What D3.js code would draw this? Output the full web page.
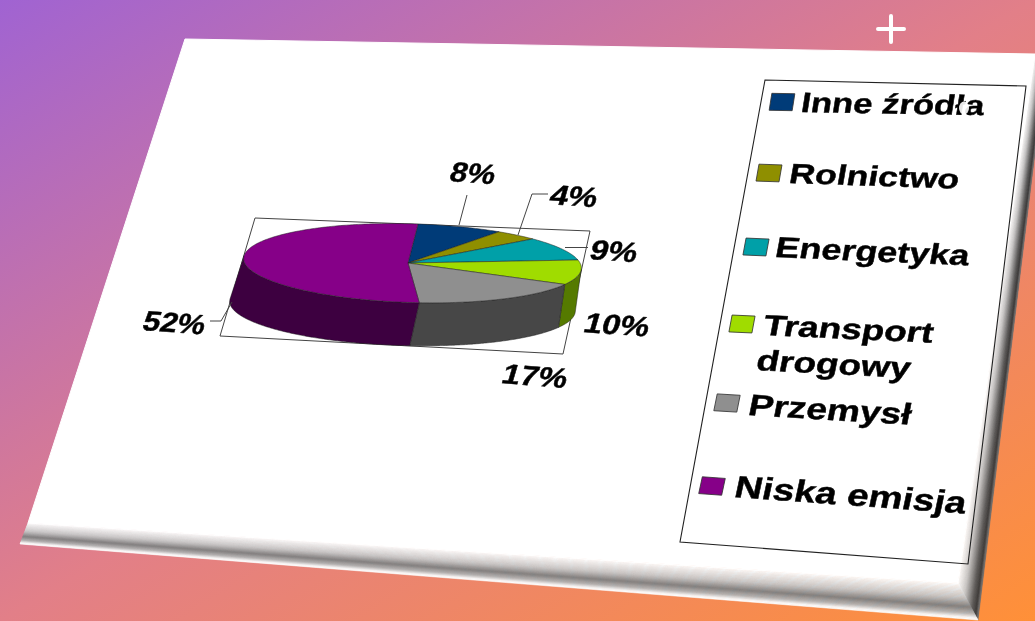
<!DOCTYPE html>
<html>
<head>
<meta charset="utf-8">
<script src="https://cdn.jsdelivr.net/npm/d3@7"></script>
<style>
html, body { margin: 0; padding: 0; overflow: hidden; }
svg { display: block; }
text { font-family: "Liberation Sans", Arial, sans-serif; font-weight: bold; fill: #060606; stroke: #060606; stroke-width: 0.45; }
</style>
</head>
<body>
<svg width="1035" height="621"></svg>
<script>
/*
Chart data
 */
const categories = ["Inne źródła", "Rolnictwo", "Energetyka", "Transport drogowy", "Przemysł", "Niska emisja"];
const shares = [8, 4, 9, 10, 17, 52];
const topColors = ["#003a78", "#8f8f00", "#00a0a8", "#a0dc00", "#8f8f8f", "#860088"];
const wallColors = ["#001c3c", "#474700", "#005054", "#557a00", "#464646", "#3d0040"];

/*
Layout
 */
const width = 1035, height = 621;
const panel = [[185, 39], [1035, 54], [958, 583], [28, 523]];
const plotBox = [[255, 218], [590, 231], [563, 354], [220, 336]];
const legendBox = [[765, 80], [1026, 86], [968, 564], [680, 542]];

// x, y is the baseline start, w the width the text is stretched to
const labelLayout = [
    {x: 448, y: 181, w: 45, size: 28, rot: 4},
    {x: 548, y: 204, w: 47, size: 28, rot: 4},
    {x: 588, y: 259, w: 47, size: 28, rot: 4},
    {x: 582, y: 332, w: 65, size: 28, rot: 4},
    {x: 500, y: 383, w: 65, size: 28, rot: 4.5},
    {x: 141, y: 330, w: 62, size: 28, rot: 4}
];
const leaders = [
    [[467, 195], [459, 225]],
    [[548, 194], [532, 194], [518, 235]],
    [[588, 247.5], [565, 247.5]],
    [[210, 321], [221, 321], [232, 302]]
];
const legendSwatches = [[782, 102], [769, 173], [756, 247], [742, 324], [727, 403], [712, 486]];
const legendLines = [
    [{t: "Inne źródła", x: 800, y: 112, w: 183, size: 28, rot: 1}],
    [{t: "Rolnictwo", x: 788, y: 183, w: 170, size: 28, rot: 1.9}],
    [{t: "Energetyka", x: 774, y: 257, w: 194, size: 29, rot: 2.5}],
    [{t: "Transport", x: 762, y: 335, w: 170, size: 29, rot: 2.6},
     {t: "drogowy", x: 755, y: 370, w: 154, size: 29, rot: 3}],
    [{t: "Przemysł", x: 747, y: 415, w: 163, size: 30, rot: 3.4}],
    [{t: "Niska emisja", x: 733, y: 497, w: 232, size: 31, rot: 4.1}]
];

const svg = d3.select("svg");
const defs = svg.append("defs");
const outline = d3.line();
const closedOutline = pts => outline(pts) + "Z";

/*
Slide background and bevelled panel
 */
//Same geometry as css "to bottom right": the other two corners land on the middle stop
const diag = 2 * width * height / (width * width + height * height);
const bg = defs.append("linearGradient").attr("id", "bg")
    .attr("gradientUnits", "userSpaceOnUse")
    .attr("x1", width / 2 - height * diag / 2).attr("y1", height / 2 - width * diag / 2)
    .attr("x2", width / 2 + height * diag / 2).attr("y2", height / 2 + width * diag / 2);
[[0, "#a063d2"], [0.5, "#e27f88"], [1, "#ff9038"]].forEach(s =>
    bg.append("stop").attr("offset", s[0]).attr("stop-color", s[1]));

defs.append("filter").attr("id", "soft")
    .attr("x", 0).attr("y", 0).attr("width", width).attr("height", height)
    .attr("filterUnits", "userSpaceOnUse")
    .append("feGaussianBlur").attr("stdDeviation", 0.55);

svg.append("rect").attr("width", width).attr("height", height).attr("fill", "url(#bg)");

const page = svg.append("g").attr("filter", "url(#soft)");

//The bevels taper, so they are drawn as thin strips rather than one gradient
function drawBevel(innerA, innerB, outerB, outerA, offsets, colors) {
    const tone = d3.scaleLinear().domain(offsets).range(colors);
    const n = 30;
    const mix = (p, q, t) => [p[0] + (q[0] - p[0]) * t, p[1] + (q[1] - p[1]) * t];
    page.append("g").selectAll("path").data(d3.range(n)).join("path")
        .attr("d", i => closedOutline([
            mix(innerA, outerA, i / n), mix(innerB, outerB, i / n),
            mix(innerB, outerB, (i + 1) / n), mix(innerA, outerA, (i + 1) / n)]))
        .attr("fill", i => tone((i + 0.5) / n))
        .attr("stroke", i => tone((i + 0.5) / n))
        .attr("stroke-width", 0.6);
}

drawBevel([1035, 54], [958, 583], [978, 620], [1047, 54],
    [0, 0.35, 0.72, 0.9, 1], ["#ffffff", "#c8c8c8", "#5c5c5c", "#3a3a3a", "#777777"]);
drawBevel([28, 523], [958, 583], [978, 620], [20, 544],
    [0, 0.4, 0.66, 0.84, 0.95, 1], ["#ffffff", "#c8c8c8", "#808080", "#b4b4b4", "#f5f5f5", "#ffffff"]);

page.append("path").attr("d", closedOutline(panel))
    .attr("fill", "#ffffff").attr("stroke", "#ffffff").attr("stroke-width", 1);

//The little white cross in the corner of the slide
page.append("path")
    .attr("d", "M878,29H904M891,16V42")
    .attr("stroke", "#ffffff").attr("stroke-width", 4).attr("stroke-linecap", "round");

/*
Plot frame behind the pie
 */
page.append("path").attr("d", closedOutline(plotBox))
    .attr("fill", "none").attr("stroke", "#444").attr("stroke-width", 1);

/*
Pie: d3.pie gives the angles, project() lays them on the tilted disc
 */
const cx = 408, cy = 263, depth = 43;
function project(theta, lowered) {
    const u = Math.sin(theta), v = Math.cos(theta);
    const w = 1 - 0.0267 * u;
    const x = cx + (168.4 * u + 10 * v) / w;
    const y = cy + (7 * u - 39 * v) / w;
    return lowered ? [x - 10 + 4 * u, y + depth] : [x, y];
}

function arcPoints(a0, a1, lowered) {
    const n = Math.max(2, Math.ceil((a1 - a0) / 0.02));
    return d3.range(n + 1).map(i => project(a0 + (a1 - a0) * i / n, lowered));
}

//A wall point faces us while the rim tangent runs against the extrusion
function faces(theta) {
    const e = 0.001;
    const a = project(theta - e), b = project(theta + e), low = project(theta, true), top = project(theta);
    const tx = b[0] - a[0], ty = b[1] - a[1];
    return tx * (low[1] - top[1]) - ty * (low[0] - top[0]) < 0;
}

const slices = d3.pie().sort(null)(shares);
slices.forEach((s, i) => { s.index = i; });

const walls = slices.map(s => {
    const n = Math.ceil((s.endAngle - s.startAngle) / 0.01);
    const angles = d3.range(n + 1).map(i => s.startAngle + (s.endAngle - s.startAngle) * i / n).filter(faces);
    return {index: s.index, angles: angles};
}).filter(d => d.angles.length > 1);

page.append("g").selectAll("path").data(walls).join("path")
    .attr("d", d => closedOutline(d.angles.map(a => project(a)).concat(d.angles.slice().reverse().map(a => project(a, true)))))
    .attr("fill", d => wallColors[d.index])
    .attr("stroke", "#222").attr("stroke-width", 0.5).attr("stroke-linejoin", "round");

page.append("g").selectAll("path").data(slices).join("path")
    .attr("d", s => closedOutline([[cx, cy]].concat(arcPoints(s.startAngle, s.endAngle))))
    .attr("fill", (s, i) => topColors[i])
    .attr("stroke", "#222").attr("stroke-width", 0.5).attr("stroke-linejoin", "round");

page.append("g").selectAll("path").data(leaders).join("path")
    .attr("d", outline).attr("fill", "none").attr("stroke", "#444").attr("stroke-width", 1);

/*
Slanted text: real text pushed through the same lean as the slide
 */
function slantText(sel, skew) {
    sel.attr("font-size", d => d.size)
        .attr("transform", function(d) {
            const sx = d.w / this.getComputedTextLength();
            return "translate(" + d.x + "," + d.y + ") rotate(" + d.rot + ") skewX(" + skew + ") scale(" + sx + ",1)";
        });
}

page.append("g").selectAll("text").data(labelLayout).join("text")
    .text((d, i) => shares[i] + "%")
    .call(slantText, -12);

/*
Legend
 */
page.append("path").attr("d", closedOutline(legendBox))
    .attr("fill", "none").attr("stroke", "#222").attr("stroke-width", 1.1);

page.append("g").selectAll("rect").data(legendSwatches).join("rect")
    .attr("x", -11.5).attr("y", -8.5).attr("width", 23).attr("height", 17)
    .attr("transform", (d, i) => "translate(" + d[0] + "," + d[1] + ") rotate(" + legendLines[i][0].rot + ") skewX(-8)")
    .attr("fill", (d, i) => topColors[i])
    .attr("stroke", "#333").attr("stroke-width", 0.8);

page.append("g").selectAll("text").data(legendLines.flat()).join("text")
    .text(d => d.t)
    .call(slantText, -8);

//White speck the source photo has over the last word of the first entry
page.append("ellipse").attr("cx", 964).attr("cy", 108).attr("rx", 5).attr("ry", 6.5).attr("fill", "#ffffff").attr("opacity", 0.9);
</script>
</body>
</html>
